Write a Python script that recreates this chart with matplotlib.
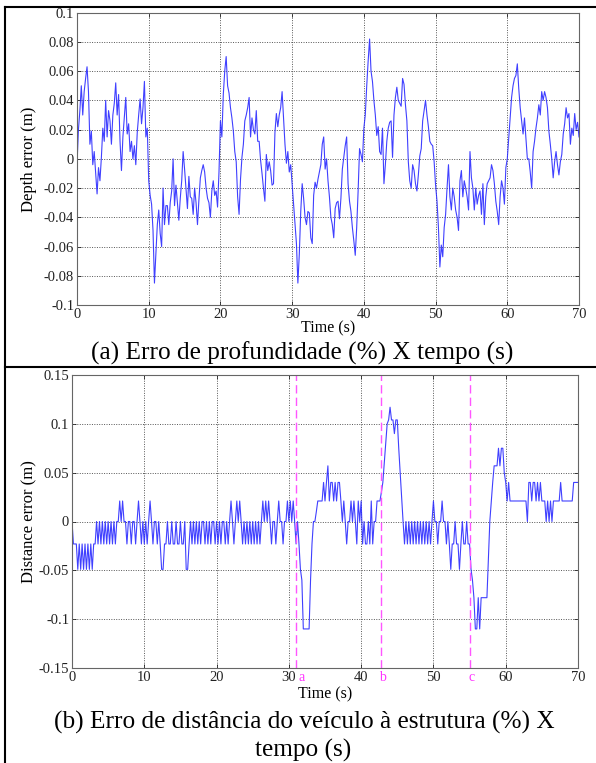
import numpy as np
import matplotlib
matplotlib.use("Agg")
import matplotlib.pyplot as plt
from matplotlib.lines import Line2D

W, H = 596, 763

# sample times (s), one reading every 0.2 s
time_s = np.round(np.arange(0, 70.01, 0.2), 1)

# (a) depth error, in mm (5 samples per second)
depth_err_mm = [
    -4, 20, 33, 50, 30,      46, 55, 63, 46, 10,      19, -4, 5, -10, -24,
    -6, -15, 1, 21, 12,      40, 15, 33, 26, 10,      30, 38, 52, 30, 44,
    12, -8, 15, 28, 42,      17, 24, 5, 12, 0,        9, -4, 18, 30, 41,
    24, 35, 53, 15, 21,      -15, -25, -31, -49, -85,  -65, -45, -35, -51, -60,
    -20, -45, -32, -32, -45,  -30, -22, 0, -32, -18,   -30, -42, -27, -15, 5,
    -7, -20, -34, -12, -26,   -27, -38, -20, -30, -45,  -28, -13, -8, -4, -9,
    -20, -27, -30, -40, -22,  -15, -25, -22, -33, -9,   26, 15, 44, 60, 70,
    50, 45, 35, 28, 19,       5, -2, -26, -38, -14,    1, 10, 26, 30, 35,
    42, 15, 28, 20, 17,       33, 12, 12, -1, -10,     -20, -29, 3, -8, -2,
    -8, -18, -17, 18, 31,     22, 30, 35, 46, 28,      10, -3, 5, -9, -4,
    -17, -31, -45, -58, -85,  -65, -36, -17, -27, -40,  -45, -36, -37, -54, -58,
    -25, -16, -20, -14, -9,   -4, 10, 15, -7, 0,       -15, -26, -40, -45, -54,
    -34, -30, -29, -41, -27,  -7, 1, 9, 15, -17,       -29, -36, -47, -56, -66,
    -47, -22, 7, 3, -2,       21, 30, 50, 67, 82,      60, 53, 40, 30, 16,
    22, 5, 3, 21, -17,        -4, 12, 21, 25, 26,      1, 30, 42, 49, 40,
    38, 36, 55, 51, 37,       26, -2, -15, -20, -4,    -8, -17, -22, -11, 2,
    7, 26, 33, 40, 30,        22, 12, 10, 9, -2,       -18, -29, -47, -74, -59,
    -67, -47, -38, -20, -4,   -26, -35, -20, -26, -35,  -40, -49, -15, -8, -26,
    -15, -20, -26, -35, 5,    -13, -20, -35, -20, -31,  -25, -22, -38, -17, -45,
    -26, -17, -15, -13, -4,   -8, -17, -29, -36, -45,   -26, -15, -20, -31, -6,
    0, 14, 27, 42, 50,        55, 57, 65, 48, 35,      26, 17, 28, 14, 0,
    0, -9, -20, 5, 12,        21, 28, 37, 30, 46,      40, 46, 42, 35, 19,
    10, 0, -13, -2, 5,        -4, -11, -2, 3, 17,      24, 35, 28, 31, 10,
    21, 16, 31, 20, 25,       15,
]

# (b) distance error to the structure, in mm
dist_err_mm = [
    0, -23, -23, -23, -49,    -23, -49, -23, -49, -23,  -49, -23, -49, -23, -49,
    -23, -23, 0, -23, 0,      -23, 0, -23, 0, -23,     0, -23, 0, -23, 0,
    -23, 0, 0, 21, 0,         21, 0, 0, -23, 0,        0, -23, 0, 0, -23,
    0, 21, 0, -23, 0,         -23, 0, -23, 0, 21,      0, -23, 0, 0, -23,
    0, -23, -49, -49, -23,    -23, 0, -23, -23, 0,     -23, -23, 0, -23, -23,
    0, -23, -23, 0, -49,      -49, -23, 0, -23, 0,     -23, 0, -23, 0, -23,
    0, 0, -23, 0, -23,        0, -23, 0, 0, -23,       0, -23, 0, -23, 0,
    0, -23, 0, -23, 0,        21, 0, -23, 0, 21,       0, 21, 0, -23, 0,
    -23, 0, -23, 0, -23,      0, -23, 0, -23, 0,       -23, 0, 21, 0, 21,
    0, 21, 0, -23, 0,         0, -23, 0, 21, 0,        0, -23, 0, 0, 21,
    0, 21, 0, 21, 0,          -23, 0, -23, -49, -60,   -110, -110, -110, -110, -110,
    -60, -23, 0, 0, 10,       21, 21, 21, 21, 40,      21, 40, 57, 21, 40,
    40, 21, 40, 21, 40,       40, 21, 0, 21, 0,        -23, 0, 0, 21, 0,
    21, 0, -23, 21, 0,        21, -23, 0, -23, -23,    0, -23, 21, -23, 0,
    0, 21, 21, 21, 30,        40, 60, 80, 100, 104,    117, 104, 104, 90, 104,
    104, 75, 50, 25, 0,       -23, 0, -23, 0, -23,     0, -23, 0, -23, 0,
    -23, 0, -23, 0, -23,      0, -23, 0, -23, 0,       21, 0, 0, -23, 0,
    0, 21, 0, 0, -23,         0, -23, -49, -23, -23,   0, -23, -23, -49, -23,
    0, -23, -23, 0, -23,      -23, -49, -60, -78, -110, -110, -78, -110, -78, -78,
    -78, -78, -78, -40, 0,    20, 40, 57, 57, 57,      75, 57, 75, 75, 50,
    40, 21, 40, 21, 21,       21, 21, 21, 21, 21,      21, 21, 21, 21, 21,
    0, 40, 40, 21, 40,        40, 21, 40, 21, 40,      21, 21, 21, 0, 21,
    0, 21, 0, 21, 21,         21, 21, 21, 40, 21,      21, 21, 21, 21, 21,
    21, 21, 40, 40, 40,       40,
]

event_times = [31.0, 42.7, 55.0]
event_labels = ["a", "b", "c"]

serif = "Liberation Serif"
plt.rcParams["font.family"] = serif

fig = plt.figure(figsize=(W / 100, H / 100), dpi=100)
fig.patch.set_facecolor("white")


def px_box(x0, y0, x1, y1):
    # pixel box (top-left origin) -> figure fraction [left, bottom, width, height]
    return [x0 / W, 1 - y1 / H, (x1 - x0) / W, (y1 - y0) / H]


def style_axes(ax, ylim, yticks, ylabels):
    ax.set_xlim(0, 70)
    ax.set_ylim(*ylim)
    ax.set_xticks(range(0, 71, 10))
    ax.set_yticks(yticks)
    ax.set_yticklabels(ylabels)
    ax.grid(True, linestyle=(0, (1, 1.5)), color="#555555", linewidth=0.7)
    ax.tick_params(direction="in", length=3, width=0.6, labelsize=10.5,
                   colors="#222222", pad=2, top=True, right=True)
    for s in ax.spines.values():
        s.set_color("#666666")
        s.set_linewidth(0.8)


line_col = "#2b2bff"

# panel (a)
ax1 = fig.add_axes(px_box(77, 12.7, 579, 305))
ax1.plot(time_s, np.array(depth_err_mm) / 1000.0, color=line_col, lw=0.8, alpha=0.9)
style_axes(ax1, (-0.1, 0.1), np.arange(-0.1, 0.1001, 0.02),
           ["-0.1", "-0.08", "-0.06", "-0.04", "-0.02", "0",
            "0.02", "0.04", "0.06", "0.08", "0.1"])
ax1.set_xlabel("Time (s)", fontsize=11.5, labelpad=0)
ax1.set_ylabel("Depth error (m)", fontsize=12, labelpad=5)

# panel (b)
ax2 = fig.add_axes(px_box(72, 375, 578, 668))
ax2.plot(time_s, np.array(dist_err_mm) / 1000.0, color=line_col, lw=0.8, alpha=0.9)
style_axes(ax2, (-0.15, 0.15), np.arange(-0.15, 0.1501, 0.05),
           ["-0.15", "-0.1", "-0.05", "0", "0.05", "0.1", "0.15"])
ax2.set_xlabel("Time (s)", fontsize=11.5, labelpad=2)
ax2.set_ylabel("Distance error (m)", fontsize=12, labelpad=1)
for t, lab in zip(event_times, event_labels):
    ax2.axvline(t, color="#ff55ff", lw=1.0, ls=(0, (6, 3)))
    ax2.text(t + 0.3, -0.153, lab, color="#ff33ff", fontsize=10,
             ha="left" if lab == "a" else "center", va="top")

# table borders and captions
def hline(y, x0=5, x1=W, lw=1.5):
    fig.add_artist(Line2D([x0 / W, x1 / W], [1 - y / H, 1 - y / H],
                          color="black", lw=lw, transform=fig.transFigure))

hline(7)
hline(367)
fig.add_artist(Line2D([5 / W, 5 / W], [0, 1 - 7 / H], color="black", lw=1.5,
                      transform=fig.transFigure))

cap_size = 18.2
fig.text(302 / W, 1 - 353 / H, "(a) Erro de profundidade (%) X tempo (s)",
         ha="center", va="center", fontsize=cap_size)
fig.text(304 / W, 1 - 722 / H, "(b) Erro de distância do veículo à estrutura (%) X",
         ha="center", va="center", fontsize=cap_size)
fig.text(303 / W, 1 - 750 / H, "tempo (s)", ha="center", va="center", fontsize=cap_size)

fig.savefig("out.png", dpi=100)
